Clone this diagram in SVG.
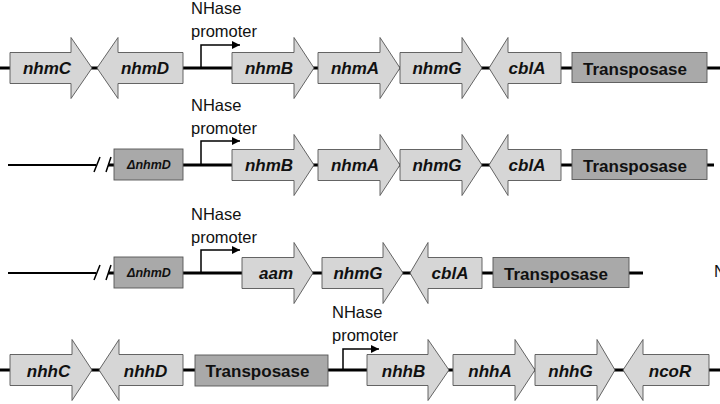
<svg xmlns="http://www.w3.org/2000/svg" width="720" height="404" viewBox="0 0 720 404">
<style>
.bb{stroke:#000;stroke-width:3;fill:none}
.bt{stroke:#000;stroke-width:2;fill:none}
.pr{stroke:#000;stroke-width:1.5;fill:none}
.gene{fill:#d6d6d6;stroke:#555;stroke-width:0.9}
.tp{fill:#a9a9a9;stroke:#555;stroke-width:0.9}
.gl{font-family:"Liberation Sans",Arial,sans-serif;font-size:17px;font-weight:bold;font-style:italic;fill:#111;text-anchor:middle}
.dl{font-family:"Liberation Sans",Arial,sans-serif;font-size:12.5px;font-weight:bold;font-style:italic;fill:#111;text-anchor:middle}
.tl{font-family:"Liberation Sans",Arial,sans-serif;font-size:17px;font-weight:bold;fill:#111;text-anchor:middle}
.nl{font-family:"Liberation Sans",Arial,sans-serif;font-size:16.5px;fill:#111}
</style>
<defs>
<marker id="ah" markerUnits="userSpaceOnUse" markerWidth="9" markerHeight="8" refX="8" refY="4" orient="auto">
<path d="M0,0 L8,4 L0,8 Z" fill="#000"/>
</marker>
</defs>
<rect width="720" height="404" fill="#fff"/>
<g id="connectors">
<line class="bb" x1="0" y1="68" x2="720" y2="68"/>
<line class="bt" x1="8" y1="165" x2="96" y2="165"/>
<line class="bb" x1="108" y1="165" x2="714" y2="165"/>
<line class="bt" x1="8" y1="273" x2="96" y2="273"/>
<line class="bb" x1="108" y1="273" x2="643" y2="273"/>
<line class="bb" x1="0" y1="370" x2="720" y2="370"/>
<g class="pr">
<line x1="94" y1="172" x2="100" y2="157"/><line x1="106" y1="172" x2="111" y2="157"/>
<line x1="94" y1="280" x2="100" y2="265"/><line x1="106" y1="280" x2="111" y2="265"/>
</g>
<path class="pr" d="M201,68 V45 H240" marker-end="url(#ah)"/>
<path class="pr" d="M201,165 V141 H240" marker-end="url(#ah)"/>
<path class="pr" d="M201,273 V250 H240" marker-end="url(#ah)"/>
<path class="pr" d="M343,370 V349 H379" marker-end="url(#ah)"/>
</g>
<g id="promoter-labels">
<text class="nl" x="191" y="14">NHase</text><text class="nl" x="191" y="37">promoter</text>
<text class="nl" x="191" y="111">NHase</text><text class="nl" x="191" y="134">promoter</text>
<text class="nl" x="191" y="220">NHase</text><text class="nl" x="191" y="243">promoter</text>
<text class="nl" x="332" y="318">NHase</text><text class="nl" x="332" y="341">promoter</text>
<text class="nl" x="714" y="277">N</text>
</g>
<!-- Row 1 -->
<g id="r1-nhmC"><polygon class="gene" points="10,52.5 71,52.5 71,37.5 92,68 71,98.5 71,83.5 10,83.5"/><text class="gl" x="47" y="74">nhmC</text></g>
<g id="r1-nhmD"><polygon class="gene" points="183,52.5 118,52.5 118,37.5 97,68 118,98.5 118,83.5 183,83.5"/><text class="gl" x="145" y="74">nhmD</text></g>
<g id="r1-nhmB"><polygon class="gene" points="232,52.5 294,52.5 294,37.5 314,68 294,98.5 294,83.5 232,83.5"/><text class="gl" x="269" y="74">nhmB</text></g>
<g id="r1-nhmA"><polygon class="gene" points="318,52.5 380,52.5 380,37.5 400,68 380,98.5 380,83.5 318,83.5"/><text class="gl" x="355" y="74">nhmA</text></g>
<g id="r1-nhmG"><polygon class="gene" points="400,52.5 462,52.5 462,37.5 482,68 462,98.5 462,83.5 400,83.5"/><text class="gl" x="437" y="74">nhmG</text></g>
<g id="r1-cblA"><polygon class="gene" points="561,52.5 508,52.5 508,37.5 489,68 508,98.5 508,83.5 561,83.5"/><text class="gl" x="527" y="74">cblA</text></g>
<g id="r1-transposase"><rect class="tp" x="572" y="52.5" width="135" height="30"/><text class="tl" x="635" y="75">Transposase</text></g>
<!-- Row 2 -->
<g id="r2-dnhmD"><rect class="tp" x="114" y="149" width="69" height="31"/><text class="dl" x="149" y="169">ΔnhmD</text></g>
<g id="r2-nhmB"><polygon class="gene" points="232,149.5 294,149.5 294,134.5 314,165 294,195.5 294,180.5 232,180.5"/><text class="gl" x="269" y="171">nhmB</text></g>
<g id="r2-nhmA"><polygon class="gene" points="318,149.5 380,149.5 380,134.5 400,165 380,195.5 380,180.5 318,180.5"/><text class="gl" x="355" y="171">nhmA</text></g>
<g id="r2-nhmG"><polygon class="gene" points="400,149.5 462,149.5 462,134.5 482,165 462,195.5 462,180.5 400,180.5"/><text class="gl" x="437" y="171">nhmG</text></g>
<g id="r2-cblA"><polygon class="gene" points="561,149.5 508,149.5 508,134.5 489,165 508,195.5 508,180.5 561,180.5"/><text class="gl" x="527" y="171">cblA</text></g>
<g id="r2-transposase"><rect class="tp" x="572" y="149.5" width="135" height="30"/><text class="tl" x="635" y="172">Transposase</text></g>
<!-- Row 3 -->
<g id="r3-dnhmD"><rect class="tp" x="114" y="257" width="69" height="31"/><text class="dl" x="149" y="277">ΔnhmD</text></g>
<g id="r3-aam"><polygon class="gene" points="242,257.5 294,257.5 294,242.5 313,273 294,303.5 294,288.5 242,288.5"/><text class="gl" x="276" y="279">aam</text></g>
<g id="r3-nhmG"><polygon class="gene" points="322,257.5 383,257.5 383,242.5 403,273 383,303.5 383,288.5 322,288.5"/><text class="gl" x="358" y="279">nhmG</text></g>
<g id="r3-cblA"><polygon class="gene" points="482,257.5 428,257.5 428,242.5 410,273 428,303.5 428,288.5 482,288.5"/><text class="gl" x="450" y="279">cblA</text></g>
<g id="r3-transposase"><rect class="tp" x="493" y="257.5" width="136" height="30"/><text class="tl" x="556" y="280">Transposase</text></g>
<!-- Row 4 -->
<g id="r4-nhhC"><polygon class="gene" points="10,354.5 72,354.5 72,339.5 92,370 72,400.5 72,385.5 10,385.5"/><text class="gl" x="48.5" y="376.5">nhhC</text></g>
<g id="r4-nhhD"><polygon class="gene" points="183,354.5 119,354.5 119,339.5 99,370 119,400.5 119,385.5 183,385.5"/><text class="gl" x="145.5" y="376.5">nhhD</text></g>
<g id="r4-transposase"><rect class="tp" x="195" y="355" width="133" height="31"/><text class="tl" x="257.5" y="377">Transposase</text></g>
<g id="r4-nhhB"><polygon class="gene" points="367,354.5 428,354.5 428,339.5 449,370 428,400.5 428,385.5 367,385.5"/><text class="gl" x="403.5" y="376.5">nhhB</text></g>
<g id="r4-nhhA"><polygon class="gene" points="453,354.5 515,354.5 515,339.5 535,370 515,400.5 515,385.5 453,385.5"/><text class="gl" x="490" y="376.5">nhhA</text></g>
<g id="r4-nhhG"><polygon class="gene" points="535,354.5 597,354.5 597,339.5 615,370 597,400.5 597,385.5 535,385.5"/><text class="gl" x="570.5" y="376.5">nhhG</text></g>
<g id="r4-ncoR"><polygon class="gene" points="709,354.5 643,354.5 643,339.5 623,370 643,400.5 643,385.5 709,385.5"/><text class="gl" x="670" y="376.5">ncoR</text></g>
</svg>
